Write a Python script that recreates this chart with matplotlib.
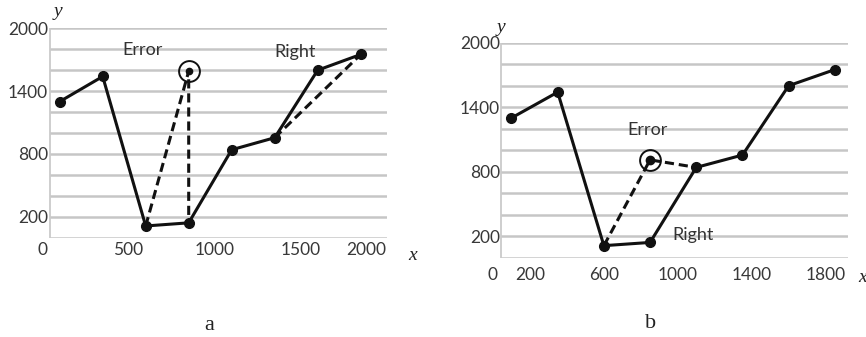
import matplotlib
matplotlib.use("Agg")
import matplotlib.pyplot as plt

# Route samples shared by both panels
route_x = [100, 350, 600, 850, 1100, 1350, 1600, 1850]
route_y = [1300, 1540, 112, 142, 840, 955, 1600, 1750]

# Panel a: erroneous point and the correct shortcut
err_a = (850, 1590)
# Panel b: erroneous point
err_b = (850, 910)

grid_levels = list(range(0, 2001, 200))
ytick_vals = [200, 800, 1400, 2000]
xticks_a = [0, 500, 1000, 1500, 2000]
xticks_b = [0, 200, 600, 1000, 1400, 1800]

W, H = 866, 337
fig = plt.figure(figsize=(W / 100, H / 100), dpi=100)

tick_font = dict(family=["Lato", "DejaVu Sans"], size=12.5, color="#383838")
note_font = dict(family=["Lato", "DejaVu Sans"], size=13, color="#333333")
serif_it = dict(family=["Liberation Serif", "DejaVu Serif"], style="italic", size=14, color="#222222")
serif = dict(family=["Liberation Serif", "DejaVu Serif"], size=16, color="#222222")

GRID = "#c6c6c6"
INK = "#111111"


def px_axes(left, right, top, bottom):
    return fig.add_axes([left / W, 1 - bottom / H, (right - left) / W, (bottom - top) / H])


def base(ax, xmax, x0, xticks, ypad, xpad):
    ax.set_xlim(0, xmax)
    ax.set_ylim(0, 2000)
    for s in ax.spines.values():
        s.set_visible(False)
    ax.hlines(grid_levels, x0, xmax, colors=GRID, lw=1.8, zorder=1)
    ax.vlines([x0], 0, 2000, colors=GRID, lw=1.2, zorder=1)
    ax.set_yticks(ytick_vals)
    ax.set_yticklabels([str(v) for v in ytick_vals], **tick_font)
    ax.set_xticks(xticks)
    ax.set_xticklabels([str(v) for v in xticks], **tick_font)
    ax.tick_params(axis="y", length=0, pad=ypad)
    ax.tick_params(axis="x", length=0, pad=xpad)
    for lab in ax.get_yticklabels():
        lab.set_verticalalignment("center_baseline")
    ax.patch.set_alpha(0)


def route(ax):
    ax.plot(route_x, route_y, color=INK, lw=2.2, marker="o", ms=7, zorder=4)


def dashed(ax, xs, ys):
    ax.plot(xs, ys, color=INK, lw=2.2, ls=(0, (3.0, 1.6)), zorder=3)


def flagged(ax, pt, dot):
    ax.plot(*pt, marker="o", ms=dot, color=INK, zorder=5)
    ax.plot(*pt, marker="o", ms=15, mfc="none", mec=INK, mew=1.4, zorder=5)


# ---- panel a ----
ax1 = px_axes(42.5, 386.5, 28.3, 237.7)
base(ax1, 2000, 44, xticks_a, ypad=-4, xpad=3)
ax1.get_xticklabels()[-1].set_horizontalalignment("right")
route(ax1)
dashed(ax1, [route_x[2], err_a[0], route_x[3]], [route_y[2], err_a[1], route_y[3]])
dashed(ax1, [route_x[5], route_x[7]], [route_y[5], route_y[7]])
flagged(ax1, err_a, 4.5)
ax1.text(584, 1793, "Error", ha="center", va="center", **note_font)
ax1.text(1468, 1774, "Right", ha="center", va="center", **note_font)

# ---- panel b ----
ax2 = px_axes(493, 848, 42.7, 257.7)
base(ax2, 1921, 43, xticks_b, ypad=-5, xpad=7)
route(ax2)
dashed(ax2, [route_x[2], err_b[0], route_x[4]], [route_y[2], err_b[1], route_y[4]])
flagged(ax2, err_b, 6)
ax2.text(839, 1188, "Error", ha="center", va="center", **note_font)
ax2.text(1082, 211, "Right", ha="center", va="center", **note_font)

# axis names and panel captions
fig.text(58 / W, 1 - 12 / H, "y", ha="center", va="center", **serif_it)
fig.text(413 / W, 1 - 255 / H, "x", ha="center", va="center", **serif_it)
fig.text(501 / W, 1 - 28 / H, "y", ha="center", va="center", **serif_it)
fig.text(863 / W, 1 - 278 / H, "x", ha="center", va="center", **serif_it)
fig.text(209 / W, 1 - 326 / H, "a", ha="center", va="center", **serif)
fig.text(651 / W, 1 - 324 / H, "b", ha="center", va="center", **serif)

fig.savefig("out.png", dpi=100, facecolor="white")
